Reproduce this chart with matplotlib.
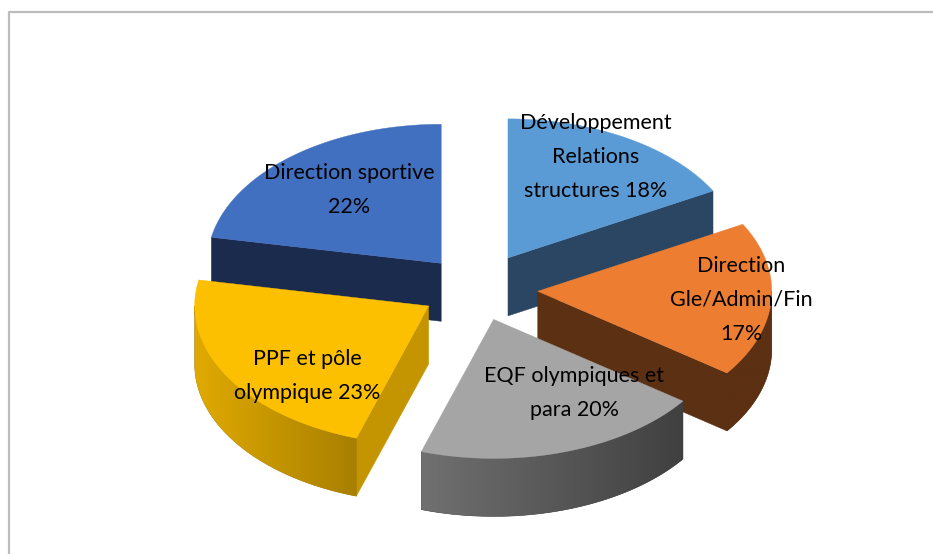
import numpy as np
import matplotlib
matplotlib.use('Agg')
import matplotlib.pyplot as plt
from matplotlib.colors import LinearSegmentedColormap
from matplotlib.patches import Polygon

# clockwise from 12 o'clock
labels = ['Développement\nRelations\nstructures 18%', 'Direction\nGle/Admin/Fin\n17%', 'EQF olympiques et\npara 20%',
          'PPF et pôle\nolympique 23%', 'Direction sportive\n22%']
# sizes of the slices as drawn in the picture (first two look swapped against their labels)
shares = [17, 18, 20, 23, 22]

top_colors = ['#5b9bd5', '#ed7d31', '#a5a5a5', '#fcc000', '#4270c0']
cut_colors = ['#2a4662', '#5c3013', '#444444', '#c49500', '#1a2b4d']
rim_left = ['#2a4662', '#5c3013', '#707070', '#e0aa00', '#1a2b4d']
rim_right = ['#2a4662', '#5c3013', '#404040', '#a87f00', '#1a2b4d']
explode = [0.26, 0.26, 0.23, 0.24, 0.24]
label_pos = [(596, 157), (741, 300), (574, 393), (307, 376), (349, 190)]

# pie geometry in pixels
cx, cy = 477, 289
rx, ry = 234, 139
depth = 58


def ellipse_pt(a, ox, oy, r=1.0):
    rad = np.radians(a)
    return ox + r * rx * np.sin(rad), oy - r * ry * np.cos(rad)


fig = plt.figure(figsize=(9.33, 5.54), dpi=100)
ax = fig.add_axes([0, 0, 1, 1])
ax.set_xlim(0, 933)
ax.set_ylim(554, 0)
ax.set_autoscale_on(False)
ax.axis('off')

# chart frame, cropped on the right and at the bottom
ax.plot([8.5, 8.5, 933], [554, 11.5, 11.5], color='#bcbcbc', lw=1.6)

edges = np.cumsum([0] + shares) * 3.6
draw_order = [4, 0, 1, 3, 2]
z = 2

for i in draw_order:
    a0, a1 = edges[i], edges[i + 1]
    ox, oy = ellipse_pt((a0 + a1) / 2, cx, cy, explode[i])
    xs, ys = ellipse_pt(np.linspace(a0, a1, 120), ox, oy)

    # cut face that looks towards the viewer
    a = a1 if a1 < 180 else a0
    if a1 < 180 or a0 > 180:
        ex, ey = ellipse_pt(a, ox, oy)
        ax.fill([ox, ex, ex, ox], [oy, ey, ey + depth, oy + depth], color=cut_colors[i], lw=0.3, zorder=z)

    # rim, only the front half of the ellipse shows
    lo, hi = max(a0, 90), min(a1, 270)
    if lo < hi:
        px, py = ellipse_pt(np.linspace(lo, hi, 120), ox, oy)
        outline = np.c_[np.r_[px, px[::-1]], np.r_[py, py[::-1] + depth]]
        ax.add_patch(Polygon(outline, color=rim_right[i], lw=0.4, zorder=z))
        clip = Polygon(outline, transform=ax.transData)
        cmap = LinearSegmentedColormap.from_list('rim', [rim_left[i], rim_right[i]])
        im = ax.imshow(np.linspace(0, 1, 256)[None, :], cmap=cmap, aspect='auto', interpolation='bilinear',
                       extent=(px.min(), px.max(), py.max() + depth, py.min()), zorder=z + 0.1)
        im.set_clip_path(clip)

    ax.fill(np.r_[ox, xs], np.r_[oy, ys], color=top_colors[i], lw=0.3, zorder=z + 0.2)
    z += 1

for text, (tx, ty) in zip(labels, label_pos):
    ax.text(tx, ty, text, ha='center', va='center', family='Lato', fontsize=15.5,
            color='black', linespacing=1.85, zorder=20)

fig.savefig('out.png', dpi=100)
